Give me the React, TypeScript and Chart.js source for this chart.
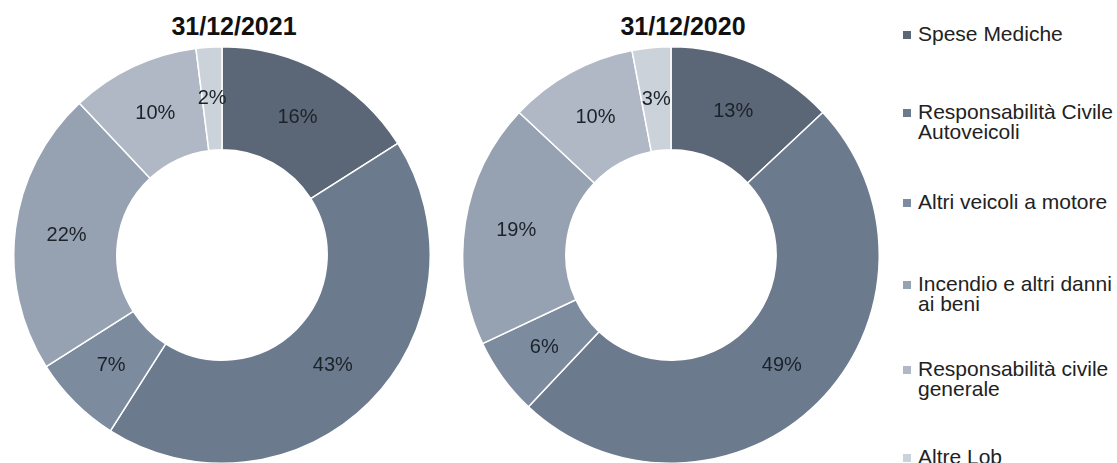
import React, { useEffect, useRef } from "react";
import { Chart, registerables } from "chart.js";

Chart.register(...registerables);

const categories = [
  "Spese Mediche",
  "Responsabilità Civile Autoveicoli",
  "Altri veicoli a motore",
  "Incendio e altri danni ai beni",
  "Responsabilità civile generale",
  "Altre Lob",
];
const legendLines = [
  ["Spese Mediche"],
  ["Responsabilità Civile", "Autoveicoli"],
  ["Altri veicoli a motore"],
  ["Incendio e altri danni", "ai beni"],
  ["Responsabilità civile", "generale"],
  ["Altre Lob"],
];
const values2021 = [16, 43, 7, 22, 10, 2];
const values2020 = [13, 49, 6, 19, 10, 3];
const titles = ["31/12/2021", "31/12/2020"];
const colors = ["#5b6777", "#6b7a8d", "#7c8b9e", "#96a2b2", "#afb8c4", "#cbd2da"];

const FONT = "'Liberation Sans', Arial, sans-serif";

const sliceLabels = {
  id: "sliceLabels",
  afterDatasetsDraw(chart: any) {
    const ctx = chart.ctx;
    const meta = chart.getDatasetMeta(0);
    const data = chart.data.datasets[0].data as number[];
    ctx.save();
    ctx.font = `20px ${FONT}`;
    ctx.fillStyle = "#1c222a";
    ctx.textAlign = "center";
    ctx.textBaseline = "middle";
    meta.data.forEach((arc: any, i: number) => {
      const p = arc.tooltipPosition(false);
      ctx.fillText(`${data[i]}%`, p.x, p.y);
    });
    ctx.restore();
  },
};

function Donut({ values, left }: { values: number[]; left: number }) {
  const ref = useRef<HTMLCanvasElement | null>(null);
  useEffect(() => {
    if (!ref.current) return;
    const chart = new Chart(ref.current, {
      type: "doughnut",
      data: {
        labels: categories,
        datasets: [
          {
            data: values,
            backgroundColor: colors,
            borderColor: "#ffffff",
            borderWidth: 1.5,
          },
        ],
      },
      options: {
        animation: false,
        responsive: false,
        maintainAspectRatio: false,
        cutout: "50.5%",
        layout: { padding: 0 },
        plugins: {
          legend: { display: false },
          tooltip: { enabled: false },
          title: { display: false },
        },
      },
      plugins: [sliceLabels],
    });
    return () => chart.destroy();
  }, [values]);
  return (
    <canvas
      ref={ref}
      width={418}
      height={418}
      style={{ position: "absolute", left, top: 46, width: 418, height: 418 }}
    />
  );
}

const legendTops = [35, 113, 203, 285, 370, 458];

export default function App() {
  return (
    <div
      style={{
        position: "absolute",
        left: 0,
        top: 0,
        width: 1117,
        height: 463,
        overflow: "hidden",
        background: "#ffffff",
        fontFamily: FONT,
      }}
    >
      <Donut values={values2021} left={13} />
      <Donut values={values2020} left={462} />
      {titles.map((t, i) => (
        <div
          key={t}
          style={{
            position: "absolute",
            left: i === 0 ? 134 : 583,
            width: 200,
            top: 11,
            height: 30,
            lineHeight: "30px",
            textAlign: "center",
            fontWeight: "bold",
            fontSize: 25,
            color: "#111111",
          }}
        >
          {t}
        </div>
      ))}
      {legendLines.map((lines, i) => (
        <div key={i}>
          <div
            style={{
              position: "absolute",
              left: 903,
              top: legendTops[i] - 4,
              width: 8,
              height: 8,
              background: colors[i],
            }}
          />
          <div
            style={{
              position: "absolute",
              left: 918,
              top: legendTops[i] - 11,
              fontSize: 21,
              lineHeight: "20px",
              color: "#222222",
              whiteSpace: "nowrap",
            }}
          >
            {lines.map((l, j) => (
              <div key={j}>{l}</div>
            ))}
          </div>
        </div>
      ))}
    </div>
  );
}
